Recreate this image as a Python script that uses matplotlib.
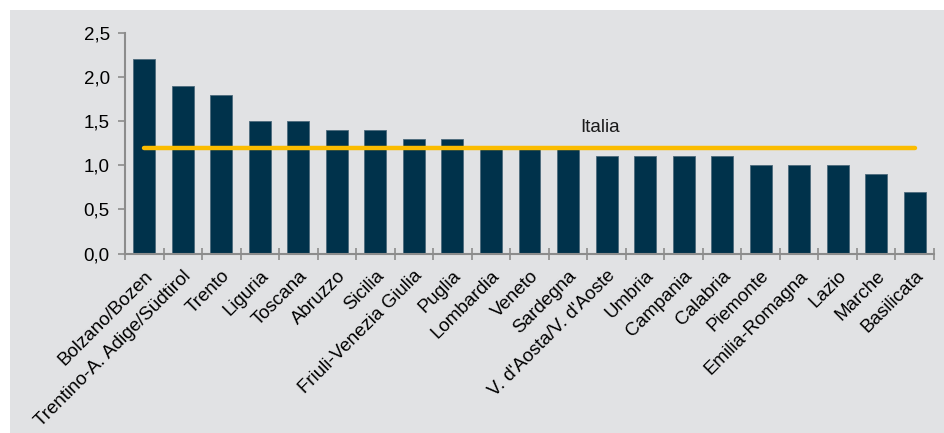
import matplotlib
matplotlib.use("Agg")
import matplotlib.pyplot as plt
from matplotlib.patches import Rectangle
import numpy as np

plt.rcParams['font.family'] = ['Liberation Sans', 'DejaVu Sans']

regions = ['Bolzano/Bozen', 'Trentino-A. Adige/Südtirol', 'Trento', 'Liguria', 'Toscana',
           'Abruzzo', 'Sicilia', 'Friuli-Venezia Giulia', 'Puglia', 'Lombardia', 'Veneto',
           'Sardegna', "V. d'Aosta/V. d'Aoste", 'Umbria', 'Campania', 'Calabria', 'Piemonte',
           'Emilia-Romagna', 'Lazio', 'Marche', 'Basilicata']
values = [2.2, 1.9, 1.8, 1.5, 1.5, 1.4, 1.4, 1.3, 1.3, 1.2, 1.2, 1.2,
          1.1, 1.1, 1.1, 1.1, 1.0, 1.0, 1.0, 0.9, 0.7]
italia = 1.2
yticks = [0.0, 0.5, 1.0, 1.5, 2.0, 2.5]

bg = '#e1e2e4'
bar_color = '#00324b'
line_color = '#fbbc00'
axis_color = '#8c8c8c'
fs = 13.5

fig = plt.figure(figsize=(9.44, 4.33), dpi=100)
fig.patch.set_facecolor('white')
fig.patches.append(Rectangle((10 / 944, 0), 1, 1 - 10 / 433, transform=fig.transFigure,
                             facecolor=bg, edgecolor='none', zorder=-10))

ax = fig.add_axes([0.1324, 0.4145, 0.857, 0.51])
ax.set_facecolor('none')

x = np.arange(len(regions))
ax.bar(x, values, width=0.57, color=bar_color, edgecolor='#4d6a7c', linewidth=0.6, zorder=2)
ax.plot([x[0], x[-1]], [italia, italia], color=line_color, linewidth=3.2,
        solid_capstyle='round', zorder=3)
ax.text(11.84, 1.43, 'Italia', fontsize=fs, color='#1a1a1a', ha='center', va='center')

ax.set_xlim(-0.5, len(regions) - 0.5)
ax.set_ylim(0, 2.5)
ax.set_yticks(yticks)
ax.set_yticklabels([f'{v:.1f}'.replace('.', ',') for v in yticks], fontsize=fs)

ax.set_xticks(np.arange(len(regions) + 1) - 0.5)
ax.set_xticklabels([])
ax.set_xticks(x, minor=True)
ax.set_xticklabels(regions, minor=True, rotation=45, ha='right', rotation_mode='anchor',
                   fontsize=fs)
ax.tick_params(axis='x', which='minor', length=0, pad=10)
ax.tick_params(axis='x', which='major', direction='inout', length=8, width=1.2, color=axis_color)
ax.tick_params(axis='y', direction='out', length=5, width=1.2, color=axis_color, pad=6)

for side in ['top', 'right']:
    ax.spines[side].set_visible(False)
for side in ['left', 'bottom']:
    ax.spines[side].set_color(axis_color)
    ax.spines[side].set_linewidth(1.5)

plt.savefig('out.png', dpi=100)
plt.close(fig)
